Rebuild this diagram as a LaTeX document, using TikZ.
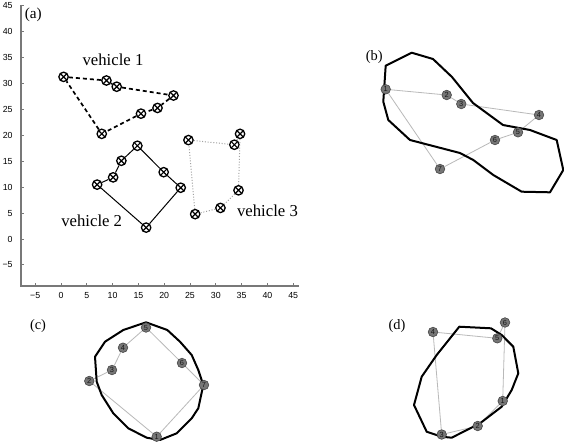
\documentclass[tikz,border=0pt]{standalone}
\usepackage{fontspec}
\setmainfont{Liberation Serif}
\newfontfamily\ticksf{Liberation Sans}
\usetikzlibrary{backgrounds}
\definecolor{nodefill}{RGB}{118,118,118}
\definecolor{nodeedge}{RGB}{70,70,70}
\definecolor{axisgray}{RGB}{120,120,120}
\definecolor{thingray}{RGB}{185,185,185}
\definecolor{dotgray}{RGB}{160,160,160}
\begin{document}
\begin{tikzpicture}[x=0.5pt,y=-0.5pt,
  crossmark/.style={circle,draw,line width=0.65pt,minimum size=4.7pt,inner sep=0pt,fill=white,
    path picture={\draw[line width=0.6pt] (path picture bounding box.north west)--(path picture bounding box.south east)
      (path picture bounding box.north east)--(path picture bounding box.south west);}},
  numnode/.style={circle,draw=nodeedge,fill=nodefill,line width=0.3pt,minimum size=4.8pt,inner sep=0pt,
    font=\ticksf\fontsize{3.7}{3.7}\selectfont,text=black!90},
  ticklab/.style={font=\ticksf\fontsize{4.4}{4.4}\selectfont,inner sep=0pt},
  vlabel/.style={font=\fontsize{8.35}{9}\selectfont,inner sep=0pt},
  plabel/.style={font=\fontsize{7.2}{8}\selectfont,inner sep=0pt},
  dashone/.style={line width=0.85pt,dash pattern=on 2pt off 1.5pt},
  solidtwo/.style={line width=0.5pt},
  dotthree/.style={line width=0.5pt,dotgray,dash pattern=on 0.5pt off 0.9pt},
  thinlink/.style={line width=0.4pt,thingray},
  outline/.style={line width=1pt,black,line join=round}
]
\useasboundingbox (0,0) rectangle (564,446);
\begin{scope}[on background layer]
\fill[white] (0,0) rectangle (564,446);
\end{scope}

% ---------------- panel (a) ----------------
\begin{scope}[shift={(61,239)}]
\begin{scope}[x=2.58pt,y=2.59pt]
\draw[axisgray,line width=0.9pt] (-7.8,45.2) -- (-7.8,-9) -- (46.2,-9);
\foreach \t in {-5,0,...,45} {
  \draw[axisgray,line width=0.5pt] (\t,-9) -- (\t,-8.4);
  \draw[axisgray,line width=0.5pt] (-7.8,\t) -- (-7.2,\t);
}
\foreach \t in {0,5,...,45} {
  \node[ticklab] (xl\t) at (\t,-10.9) {\t};
  \node[ticklab,anchor=east] (yl\t) at (-9.3,\t) {\t};
}
\node[ticklab] (xlm5) at (-5,-10.9) {−5};
\node[ticklab,anchor=east] (ylm5) at (-9.3,-5) {−5};

% vehicle 1
\node[crossmark] (v1a) at (0.5,31.3) {};
\node[crossmark] (v1b) at (8.8,30.6) {};
\node[crossmark] (v1c) at (10.8,29.4) {};
\node[crossmark] (v1d) at (21.8,27.7) {};
\node[crossmark] (v1e) at (18.7,25.3) {};
\node[crossmark] (v1f) at (15.5,24.2) {};
\node[crossmark] (v1g) at (7.9,20.3) {};
% vehicle 2
\node[crossmark] (v2a) at (7.0,10.5) {};
\node[crossmark] (v2b) at (10.1,11.9) {};
\node[crossmark] (v2c) at (11.7,15.1) {};
\node[crossmark] (v2d) at (14.8,18.0) {};
\node[crossmark] (v2e) at (19.9,12.9) {};
\node[crossmark] (v2f) at (23.2,9.9) {};
\node[crossmark] (v2g) at (16.5,2.2) {};
% vehicle 3
\node[crossmark] (v3a) at (24.7,19.1) {};
\node[crossmark] (v3b) at (33.6,18.2) {};
\node[crossmark] (v3c) at (34.7,20.3) {};
\node[crossmark] (v3d) at (34.4,9.4) {};
\node[crossmark] (v3e) at (30.9,6.0) {};
\node[crossmark] (v3f) at (26.0,4.8) {};
\end{scope}
\end{scope}

\foreach \a/\b in {v1a/v1b,v1b/v1c,v1c/v1d,v1d/v1e,v1e/v1f,v1f/v1g,v1g/v1a}
  \draw[dashone] (\a) -- (\b);
\foreach \a/\b in {v2a/v2b,v2b/v2c,v2c/v2d,v2d/v2e,v2e/v2f,v2f/v2g,v2g/v2a}
  \draw[solidtwo] (\a) -- (\b);
\foreach \a/\b in {v3a/v3b,v3b/v3c,v3c/v3d,v3d/v3e,v3e/v3f,v3f/v3a}
  \draw[dotthree] (\a) -- (\b);

\node[vlabel] (lab1) at (113,59.5) {vehicle 1};
\node[vlabel] (lab2) at (91.7,220.7) {vehicle 2};
\node[vlabel] (lab3) at (267.5,210.3) {vehicle 3};
\node[font=\fontsize{7.6}{8}\selectfont,inner sep=0pt] (pa) at (33.3,15) {(a)};

% ---------------- panel (b) ----------------
\node[plabel] (pb) at (374.3,56.7) {(b)};
\node[numnode] (b1) at (385.7,89.3) {1};
\node[numnode] (b2) at (446.7,95) {2};
\node[numnode] (b3) at (461.3,104) {3};
\node[numnode] (b4) at (539,115) {4};
\node[numnode] (b5) at (518,132.3) {5};
\node[numnode] (b6) at (495,140) {6};
\node[numnode] (b7) at (440,169) {7};
\begin{scope}[on background layer]
\foreach \a/\b in {b1/b2,b2/b3,b3/b4,b4/b5,b5/b6,b6/b7,b7/b1}
  \draw[thinlink] (\a) -- (\b);
\draw[outline] (385.7,65.7) -- (411.7,52.7) -- (433,59) -- (452,77) -- (473,103) -- (503,125)
  -- (530,130) -- (556.7,140) -- (563.3,170) -- (550,192.3) -- (521.7,191.7) -- (493.3,175)
  -- (473.3,160) -- (460,153) -- (410,140) -- (388.3,120) -- (383.3,101.7) -- cycle;
\end{scope}

% ---------------- panel (c) ----------------
\node[plabel] (pc) at (38,326) {(c)};
\node[numnode] (c1) at (156.7,436.7) {1};
\node[numnode] (c2) at (89.3,381) {2};
\node[numnode] (c3) at (112,370) {3};
\node[numnode] (c4) at (123,347.7) {4};
\node[numnode] (c5) at (146,327.5) {5};
\node[numnode] (c6) at (182,363) {6};
\node[numnode] (c7) at (204,385) {7};
\begin{scope}[on background layer]
\foreach \a/\b in {c1/c2,c2/c3,c3/c4,c4/c5,c5/c6,c6/c7,c7/c1}
  \draw[thinlink] (\a) -- (\b);
\draw[outline] (146,322.3) -- (167.3,330) -- (180,341.7) -- (191.7,355) -- (198.3,370) -- (203.3,385)
  -- (198.3,408.3) -- (191.7,418.3) -- (176.7,433.3) -- (160,440) -- (146.7,437.7) -- (128.3,428.3)
  -- (113.3,413.3) -- (101.7,395) -- (96.7,381.7) -- (95,356.7) -- (105,341.7) -- (123.3,330) -- cycle;
\end{scope}

% ---------------- panel (d) ----------------
\node[plabel] (pd) at (397,326) {(d)};
\node[numnode] (d1) at (502.7,401) {1};
\node[numnode] (d2) at (477.7,426) {2};
\node[numnode] (d3) at (441.7,434.5) {3};
\node[numnode] (d4) at (433,332) {4};
\node[numnode] (d5) at (497.3,338.3) {5};
\node[numnode] (d6) at (505,322.5) {6};
\begin{scope}[on background layer]
\foreach \a/\b in {d1/d2,d2/d3,d3/d4,d4/d5,d5/d6,d6/d1}
  \draw[thinlink] (\a) -- (\b);
\draw[outline] (459.3,326.7) -- (491,328.3) -- (501.7,335) -- (513.3,346.7) -- (518.3,373.3)
  -- (511.7,390) -- (501.7,406.7) -- (480,423.3) -- (451.7,437.7) -- (441.7,436.7) -- (426.7,431.7)
  -- (414,405) -- (421.7,376.7) -- (436.7,355) -- cycle;
\end{scope}
\end{tikzpicture}
\end{document}
